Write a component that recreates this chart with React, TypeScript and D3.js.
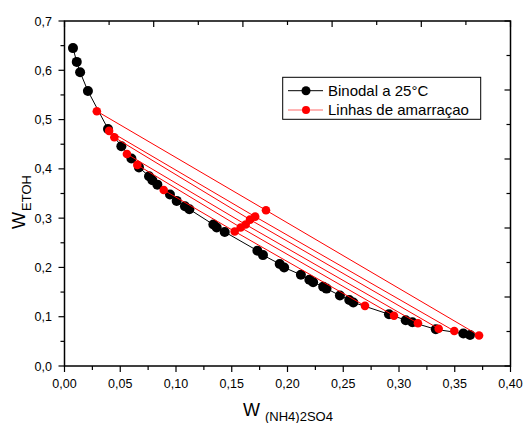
import React from "react";
import * as d3 from "d3";

// Binodal curve at 25°C: [w (NH4)2SO4, w EtOH]
const binodalX = [0.0076, 0.011, 0.014, 0.021, 0.039, 0.051, 0.060, 0.0668, 0.0758, 0.0788, 0.0833, 0.0946, 0.1006, 0.108, 0.112, 0.1335, 0.1365, 0.1437, 0.173, 0.178, 0.193, 0.197, 0.212, 0.2196, 0.223, 0.232, 0.235, 0.247, 0.2554, 0.259, 0.291, 0.306, 0.312, 0.333, 0.3577, 0.3637];
const binodalY = [0.645, 0.617, 0.596, 0.558, 0.481, 0.446, 0.421, 0.403, 0.385, 0.377, 0.368, 0.348, 0.335, 0.324, 0.318, 0.287, 0.281, 0.272, 0.234, 0.225, 0.207, 0.200, 0.185, 0.175, 0.170, 0.161, 0.157, 0.143, 0.134, 0.129, 0.105, 0.093, 0.0886, 0.0744, 0.066, 0.063];

// Tie lines: top phase, feed, bottom phase
const tieTopX = [0.029, 0.040, 0.0447, 0.056, 0.0653, 0.089];
const tieTopY = [0.517, 0.477, 0.464, 0.430, 0.408, 0.357];
const tieMidX = [0.1807, 0.171, 0.1664, 0.1625, 0.158, 0.1526];
const tieMidY = [0.316, 0.303, 0.297, 0.287, 0.281, 0.273];
const tieBotX = [0.3718, 0.3496, 0.3356, 0.317, 0.2955, 0.2695];
const tieBotY = [0.062, 0.071, 0.0757, 0.0866, 0.102, 0.122];

const xTicks = [0, 0.05, 0.1, 0.15, 0.2, 0.25, 0.3, 0.35, 0.4];
const yTicks = [0, 0.1, 0.2, 0.3, 0.4, 0.5, 0.6, 0.7];
const legendLabels = ["Binodal a 25°C", "Linhas de amarraçao"];

const W = 523, H = 423;
const L = 64.5, R = 510.5, T = 21, B = 366;
const font = "Liberation Sans, Arial, sans-serif";

export default function App() {
  const x = d3.scaleLinear().domain([0, 0.4]).range([L, R]);
  const y = d3.scaleLinear().domain([0, 0.7]).range([B, T]);
  const fmt = (v: number, d: number) => v.toFixed(d).replace(".", ",");
  const line = d3.line<[number, number]>().x(d => x(d[0])).y(d => y(d[1]));
  const binodal: [number, number][] = binodalX.map((v, i) => [v, binodalY[i]]);
  const xMinor = d3.range(0, 0.4001, 0.025);
  const yMinor = d3.range(0, 0.7001, 0.05);
  const topS = d3.scaleLinear().domain([0, 5]).range([L, R]);
  const rightS = d3.scaleLinear().domain([0, 5]).range([T, B]);
  const auxTicks = d3.range(0, 5.01, 0.5);

  return (
    <svg width={W} height={H} style={{ position: "absolute", left: 0, top: 0, background: "#fff" }} fontFamily={font}>
      <rect width={W} height={H} fill="#fff" />
      {/* binodal line */}
      <path d={line(binodal) || ""} fill="none" stroke="#000" strokeWidth={1} />
      {binodal.map((d, i) => (
        <circle key={"b" + i} cx={x(d[0])} cy={y(d[1])} r={5} fill="#000" />
      ))}
      {/* tie lines */}
      {tieTopX.map((v, i) => (
        <path key={"t" + i}
          d={line([[v, tieTopY[i]], [tieMidX[i], tieMidY[i]], [tieBotX[i], tieBotY[i]]]) || ""}
          fill="none" stroke="#ff0000" strokeWidth={1} />
      ))}
      {tieTopX.map((v, i) => (
        <g key={"tp" + i}>
          <circle cx={x(v)} cy={y(tieTopY[i])} r={4.3} fill="#ff0000" />
          <circle cx={x(tieMidX[i])} cy={y(tieMidY[i])} r={4.3} fill="#ff0000" />
          <circle cx={x(tieBotX[i])} cy={y(tieBotY[i])} r={4.3} fill="#ff0000" />
        </g>
      ))}
      {/* frame */}
      <rect x={L} y={T} width={R - L} height={B - T} fill="none" stroke="#000" strokeWidth={1.5} />
      {/* bottom ticks */}
      {xMinor.map((v, i) => (
        <line key={"xm" + i} x1={x(v)} x2={x(v)} y1={B} y2={B + (i % 2 === 0 ? 6 : 4)} stroke="#000" strokeWidth={1.2} />
      ))}
      {xTicks.map((v, i) => (
        <text key={"xl" + i} x={x(v)} y={388} fontSize={12.5} textAnchor="middle" fill="#000">{fmt(v, 2)}</text>
      ))}
      {/* left ticks */}
      {yMinor.map((v, i) => (
        <line key={"ym" + i} x1={L} x2={L - (i % 2 === 0 ? 6 : 4)} y1={y(v)} y2={y(v)} stroke="#000" strokeWidth={1.2} />
      ))}
      {yTicks.map((v, i) => (
        <text key={"yl" + i} x={52} y={y(v) + 4.5} fontSize={12.5} textAnchor="end" fill="#000">{fmt(v, 1)}</text>
      ))}
      {/* top & right inward ticks */}
      {auxTicks.map((v, i) => (
        <line key={"tt" + i} x1={topS(v)} x2={topS(v)} y1={T} y2={T + (i % 2 === 0 ? 6 : 4)} stroke="#000" strokeWidth={1.2} />
      ))}
      {auxTicks.map((v, i) => (
        <line key={"rt" + i} x1={R} x2={R - (i % 2 === 0 ? 6 : 4)} y1={rightS(v)} y2={rightS(v)} stroke="#000" strokeWidth={1.2} />
      ))}
      {/* axis titles */}
      <text x={243} y={416} fontSize={18} fill="#000">W<tspan fontSize={13} dx={5} dy={5}>(NH4)2SO4</tspan></text>
      <text transform="translate(25,229) rotate(-90)" fontSize={18} fill="#000">W<tspan fontSize={13} dx={1} dy={6}>ETOH</tspan></text>
      {/* legend */}
      <rect x={282.7} y={77.3} width={198} height={42} fill="#fff" stroke="#000" strokeWidth={1} />
      <line x1={288} x2={323} y1={90.7} y2={90.7} stroke="#000" strokeWidth={1} />
      <circle cx={306} cy={90.7} r={4.5} fill="#000" />
      <text x={328} y={96} fontSize={15} fill="#000">{legendLabels[0]}</text>
      <line x1={288} x2={323} y1={110} y2={110} stroke="#ff6a6a" strokeWidth={1} />
      <circle cx={306} cy={110} r={4} fill="#ff0000" />
      <text x={328} y={115.3} fontSize={15} fill="#000">{legendLabels[1]}</text>
    </svg>
  );
}
